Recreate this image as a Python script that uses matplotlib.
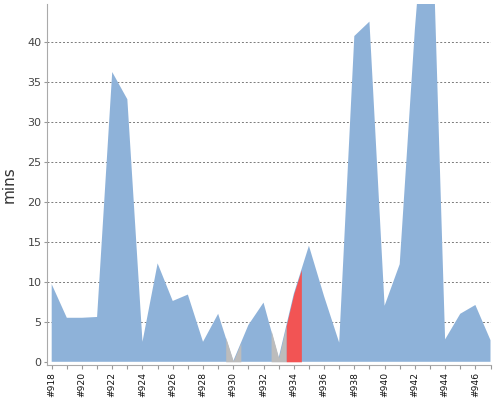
import matplotlib
matplotlib.use('Agg')
import matplotlib.pyplot as plt
import numpy as np

# build numbers and duration (mins)
builds = ['#%d' % n for n in range(918, 948)]
mins = [9.7, 5.5, 5.5, 5.6, 36.2, 32.8, 2.5, 12.3, 7.6, 8.4,
        2.5, 6.0, 0.1, 4.6, 7.4, 0.5, 8.5, 14.5, 8.2, 2.4,
        40.7, 42.5, 7.0, 12.2, 41.5, 65.0, 2.8, 6.0, 7.1, 2.7]
# S = success, A = aborted, F = failed
status = ['S'] * 30
status[builds.index('#930')] = 'A'
status[builds.index('#933')] = 'A'
status[builds.index('#934')] = 'F'

colours = {'S': '#8eb2d9', 'A': '#bcbcbc', 'F': '#f25454'}

x = np.arange(len(builds))
y = np.array(mins)

fig = plt.figure(figsize=(5, 4), dpi=100)
ax = fig.add_axes([0.094, 0.0875, 0.887, 0.9025])

# whole series in blue, then recolour the half-segments around odd builds
ax.fill_between(x, 0, y, color=colours['S'], lw=0, zorder=2)
for i, s in enumerate(status):
    if s == 'S':
        continue
    xs = np.array([max(i - 0.5, 0), i, min(i + 0.5, len(x) - 1)])
    ax.fill_between(xs, 0, np.interp(xs, x, y), color=colours[s], lw=0, zorder=3)

ax.set_xlim(-0.31, len(x) - 1)
ax.set_ylim(-0.4, 44.7)

ax.set_yticks(range(0, 45, 5))
for v in range(5, 45, 5):
    ax.axhline(v, color='#7a7a7a', lw=0.7, ls=(0, (2, 2)), zorder=1)

ax.set_xticks(x)
ax.set_xticklabels([b if i % 2 == 0 else '' for i, b in enumerate(builds)],
                   rotation=90, fontsize=6.6, color='#111111')
ax.tick_params(axis='x', length=3, width=0.8, color='#999999', pad=2)
ax.tick_params(axis='y', length=2, width=0.8, color='#999999', labelsize=8,
               labelcolor='#444444', pad=2)

for side in ('top', 'right'):
    ax.spines[side].set_visible(False)
for side in ('left', 'bottom'):
    ax.spines[side].set_color('#aaaaaa')
    ax.spines[side].set_linewidth(0.8)

ax.set_ylabel('mins', fontsize=11, color='#333333', labelpad=8)

fig.savefig('out.png', dpi=100)
